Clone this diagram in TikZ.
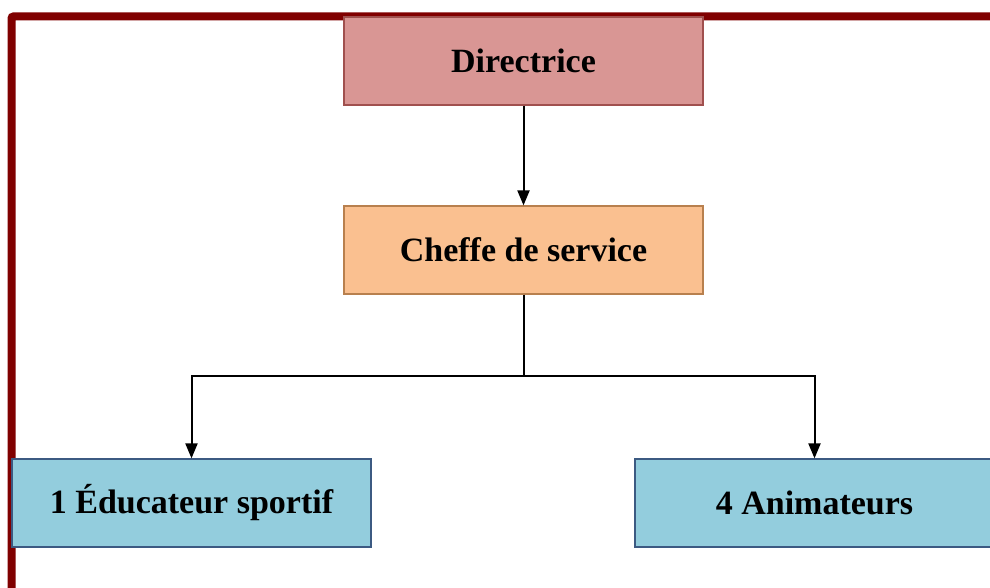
\documentclass[tikz,border=0pt]{standalone}
\usepackage{fontspec}
\setmainfont{Liberation Serif}
\usetikzlibrary{arrows.meta}
\definecolor{frame}{HTML}{800000}
\definecolor{redfill}{HTML}{D99694}
\definecolor{redline}{HTML}{A0504E}
\definecolor{orfill}{HTML}{FAC090}
\definecolor{orline}{HTML}{B8804E}
\definecolor{bluefill}{HTML}{93CDDD}
\definecolor{blueline}{HTML}{3C5A82}
\tikzset{
  orgbox/.style={rectangle, minimum width=359pt, minimum height=88pt, inner sep=0pt, line width=1.2pt,
    font=\fontsize{34}{38}\selectfont\bfseries, text=black},
  link/.style={line width=2pt, black, -{Triangle[width=12pt,length=15pt]}},
  plain/.style={line width=2pt, black}
}
\begin{document}
\begin{tikzpicture}[x=1pt,y=-1pt]
\useasboundingbox (0,0) rectangle (990,588);
\fill[white] (0,0) rectangle (990,588);
\draw[frame, line width=8pt, rounded corners=2pt] (11.5,600) -- (11.5,16.5) -- (1000,16.5);
\node[orgbox, fill=redfill, draw=redline] (dir) at (523.5,61) {\raisebox{-2pt}{Directrice}};
\node[orgbox, fill=orfill, draw=orline] (chef) at (523.5,250) {\raisebox{-2pt}{Cheffe de service}};
\node[orgbox, fill=bluefill, draw=blueline] (edu) at (191.5,503) {\raisebox{-2pt}{1 Éducateur sportif}};
\node[orgbox, fill=bluefill, draw=blueline] (ani) at (814.5,503) {\raisebox{-2pt}{4 Animateurs}};
\coordinate (mid) at (523.5,376);
\draw[link] (dir.south) -- (chef.north);
\draw[plain] (chef.south) -- (mid);
\draw[link] (mid) -| (edu.north);
\draw[link] (mid) -| (ani.north);
\end{tikzpicture}
\end{document}
